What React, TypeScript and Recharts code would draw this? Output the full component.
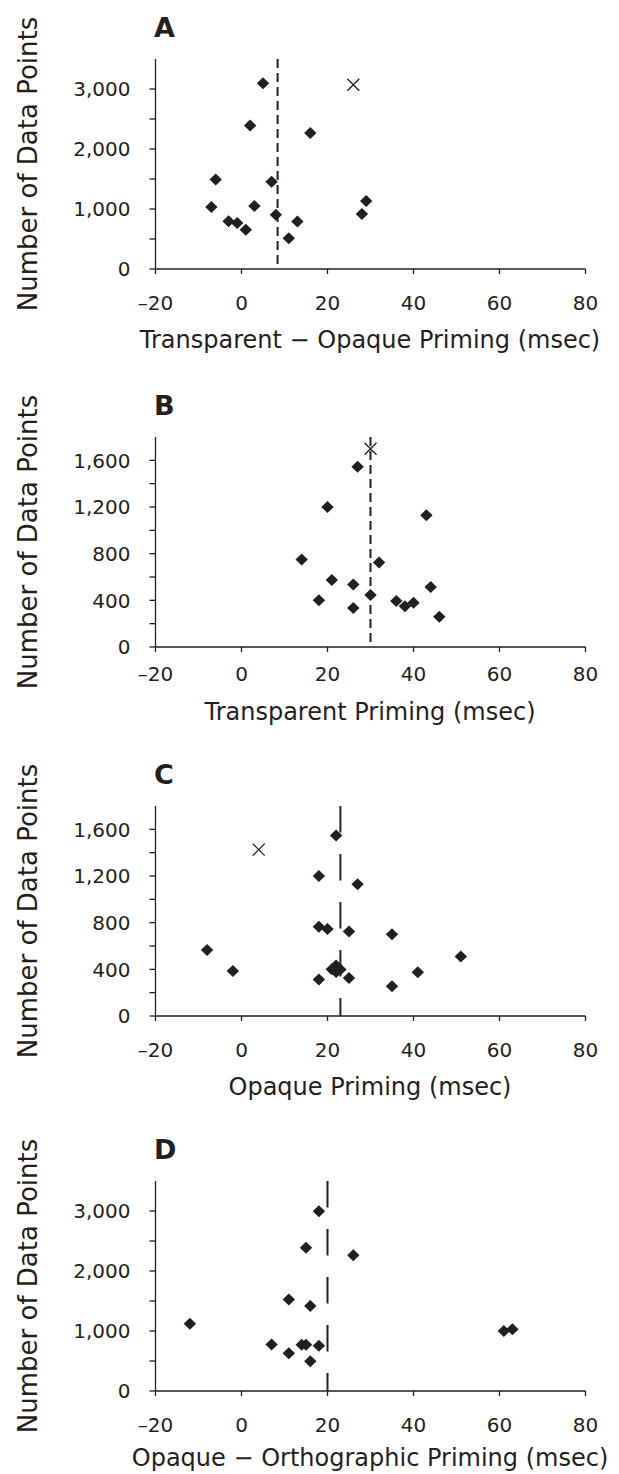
import React from "react";
import {
  ScatterChart,
  Scatter,
  XAxis,
  YAxis,
  ReferenceLine,
} from "recharts";

// x axis shared by all four panels
const xTicks = [-20, 0, 20, 40, 60, 80];
const ticksLarge = [0, 500, 1000, 1500, 2000, 2500, 3000];
const ticksSmall = [0, 200, 400, 600, 800, 1000, 1200, 1400, 1600];

// A: Transparent - Opaque priming
const aPoints = [
  [-7, 1035], [-6, 1490], [-3, 795], [-1, 765], [1, 655], [2, 2390], [3, 1052],
  [5, 3095], [7, 1455], [8, 905], [11, 511], [13, 790], [16, 2265], [28, 915], [29, 1135],
];
const aOutlier = [[26, 3070]];
const aMean = 8.4;

// B: Transparent priming
const bPoints = [
  [14, 750], [18, 400], [20, 1200], [21, 575], [26, 535], [26, 335], [27, 1545],
  [30, 445], [32, 725], [36, 395], [38, 350], [40, 380], [43, 1130], [44, 515], [46, 260],
];
const bOutlier = [[30, 1700]];
const bMean = 30;

// C: Opaque priming
const cPoints = [
  [-8, 565], [-2, 385], [18, 1200], [18, 765], [18, 312], [20, 745], [21, 400],
  [22, 1548], [22, 432], [22, 378], [23, 398], [25, 725], [25, 325], [27, 1130],
  [35, 700], [35, 255], [41, 375], [51, 510],
];
const cOutlier = [[4, 1426]];
const cMean = 23;

// D: Opaque - Orthographic priming
const dPoints = [
  [-12, 1120], [7, 775], [11, 1525], [11, 630], [14, 770], [15, 2388], [15, 770],
  [16, 1417], [16, 495], [18, 2995], [18, 755], [26, 2262], [61, 1000], [63, 1030],
];
const dOutlier: number[][] = [];
const dMean = 20;

const ink = "#231f20";
const font = "'DejaVu Sans', Verdana, sans-serif";

const toXY = (arr: number[][]) => arr.map(([x, y]) => ({ x, y }));

const Diamond = (p: any) => (
  <path
    d={`M${p.cx},${p.cy - 6} L${p.cx + 6.2},${p.cy} L${p.cx},${p.cy + 6} L${p.cx - 6.2},${p.cy} Z`}
    fill={ink}
  />
);

const Cross = (p: any) => (
  <path
    d={`M${p.cx - 6},${p.cy - 6} L${p.cx + 6},${p.cy + 6} M${p.cx + 6},${p.cy - 6} L${p.cx - 6},${p.cy + 6}`}
    stroke={ink}
    strokeWidth={1.3}
    fill="none"
  />
);

const fmtX = (v: number) => (v < 0 ? `\u2013${Math.abs(v)}` : `${v}`);

const XTick = (p: any) => (
  <text x={p.x} y={p.y} dy="0.71em" textAnchor="middle" fontSize={20} fill={ink} fontFamily={font}>
    {fmtX(p.payload.value)}
  </text>
);

const makeYTick = (major: number) => (p: any) =>
  p.payload.value % major === 0 ? (
    <text x={p.x} y={p.y} dy="0.36em" textAnchor="end" fontSize={20} fill={ink} fontFamily={font}>
      {p.payload.value.toLocaleString("en-US")}
    </text>
  ) : (
    <g />
  );

const meanLine = (dash: string) => (p: any) => (
  <line
    x1={p.x1}
    x2={p.x2}
    y1={Math.min(p.y1, p.y2)}
    y2={Math.max(p.y1, p.y2)}
    stroke={ink}
    strokeWidth={2}
    strokeDasharray={dash}
  />
);

type PanelProps = {
  top: number;
  letter: string;
  title: string;
  points: number[][];
  outlier: number[][];
  mean: number;
  yMax: number;
  yTicks: number[];
  major: number;
  dash: string;
  labelGap: number;
  titleY: number;
};

// plot area sits at y 50..260 inside each panel box
const Panel = ({
  top, letter, title, points, outlier, mean, yMax, yTicks, major, dash, labelGap, titleY,
}: PanelProps) => (
  <div style={{ position: "absolute", left: 0, top, width: 619, height: 340 }}>
    <ScatterChart width={619} height={340} margin={{ top: 50, right: 33.5, left: 95.5, bottom: 40 }}>
      <XAxis
        type="number"
        dataKey="x"
        domain={[-20, 80]}
        ticks={xTicks}
        height={40}
        stroke={ink}
        strokeWidth={1.3}
        tickSize={5}
        tickMargin={labelGap}
        tick={XTick}
      />
      <YAxis
        type="number"
        dataKey="y"
        domain={[0, yMax]}
        ticks={yTicks}
        width={60}
        stroke={ink}
        strokeWidth={1.3}
        tickSize={6}
        tickMargin={19}
        tick={makeYTick(major)}
      />
      <ReferenceLine x={mean} shape={meanLine(dash)} />
      <Scatter data={toXY(points)} shape={Diamond} isAnimationActive={false} />
      <Scatter data={toXY(outlier)} shape={Cross} isAnimationActive={false} />
    </ScatterChart>
    <svg
      width={619}
      height={340}
      style={{ position: "absolute", left: 0, top: 0, pointerEvents: "none", overflow: "visible" }}
      fontFamily={font}
      fill={ink}
    >
      <text x={154} y={28} fontSize={27} fontWeight="bold">
        {letter}
      </text>
      <text x={37} y={155} fontSize={26} textAnchor="middle" transform="rotate(-90 37 155)">
        Number of Data Points
      </text>
      <text x={370} y={titleY} fontSize={24} textAnchor="middle">
        {title}
      </text>
    </svg>
  </div>
);

export default function App() {
  return (
    <div
      style={{
        position: "absolute",
        left: 0,
        top: 0,
        width: 619,
        height: 1474,
        background: "#fff",
        overflow: "hidden",
      }}
    >
      <Panel
        top={9.3}
        letter="A"
        title={"Transparent \u2212 Opaque Priming (msec)"}
        points={aPoints}
        outlier={aOutlier}
        mean={aMean}
        yMax={3500}
        yTicks={ticksLarge}
        major={1000}
        dash="9 5"
        labelGap={21.5}
        titleY={339}
      />
      <Panel
        top={386.6}
        letter="B"
        title="Transparent Priming (msec)"
        points={bPoints}
        outlier={bOutlier}
        mean={bMean}
        yMax={1800}
        yTicks={ticksSmall}
        major={400}
        dash="9 5"
        labelGap={15}
        titleY={333}
      />
      <Panel
        top={756}
        letter="C"
        title="Opaque Priming (msec)"
        points={cPoints}
        outlier={cOutlier}
        mean={cMean}
        yMax={1800}
        yTicks={ticksSmall}
        major={400}
        dash="26.5 21.5"
        labelGap={21.5}
        titleY={339}
      />
      <Panel
        top={1130.7}
        letter="D"
        title={"Opaque \u2212 Orthographic Priming (msec)"}
        points={dPoints}
        outlier={dOutlier}
        mean={dMean}
        yMax={3500}
        yTicks={ticksLarge}
        major={1000}
        dash="26.5 21.5"
        labelGap={21.5}
        titleY={335}
      />
    </div>
  );
}
